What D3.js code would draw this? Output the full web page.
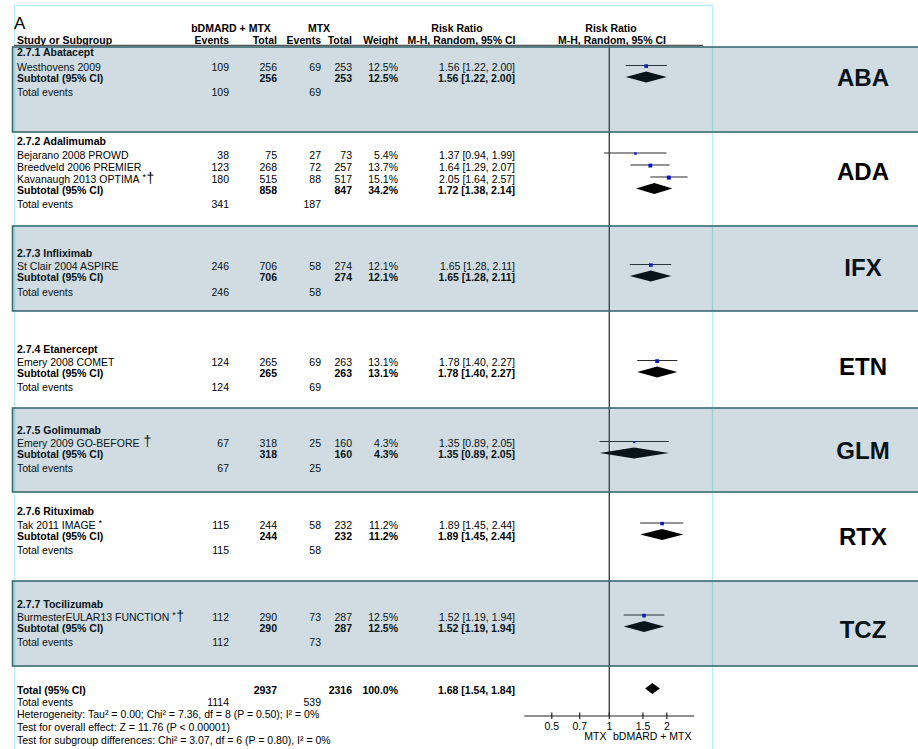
<!DOCTYPE html>
<html>
<head>
<meta charset="utf-8">
<script src="https://cdn.jsdelivr.net/npm/d3@7"></script>
<style>
  html, body { margin: 0; padding: 0; background: #fff; }
  svg { display: block; }
  text { font-family: "Liberation Sans", Arial, sans-serif; fill: #000; }
</style>
</head>
<body>
<svg id="chart" width="918" height="749"></svg>
<script>
// ---- data ----
const groupNames = ["2.7.1 Abatacept", "2.7.2 Adalimumab", "2.7.3 Infliximab", "2.7.4 Etanercept",
                    "2.7.5 Golimumab", "2.7.6 Rituximab", "2.7.7 Tocilizumab"];
const groupTags = ["ABA", "ADA", "IFX", "ETN", "GLM", "RTX", "TCZ"];

const studyNames = ["Westhovens 2009", "Bejarano 2008 PROWD", "Breedveld 2006 PREMIER",
                    "Kavanaugh 2013 OPTIMA", "St Clair 2004 ASPIRE", "Emery 2008 COMET",
                    "Emery 2009 GO-BEFORE", "Tak 2011 IMAGE", "BurmesterEULAR13 FUNCTION"];
const studyNotes = ["", "", "", "*†", "", "", "†", "*", "*†"];
const studyGroup = [0, 1, 1, 1, 2, 3, 4, 5, 6];
const studyEvents1 = [109, 38, 123, 180, 246, 124, 67, 115, 112];
const studyTotal1  = [256, 75, 268, 515, 706, 265, 318, 244, 290];
const studyEvents2 = [69, 27, 72, 88, 58, 69, 25, 58, 73];
const studyTotal2  = [253, 73, 257, 517, 274, 263, 160, 232, 287];
const studyWeight  = [12.5, 5.4, 13.7, 15.1, 12.1, 13.1, 4.3, 11.2, 12.5];
const studyRR      = [1.56, 1.37, 1.64, 2.05, 1.65, 1.78, 1.35, 1.89, 1.52];
const studyLow     = [1.22, 0.94, 1.29, 1.64, 1.28, 1.40, 0.89, 1.45, 1.19];
const studyHigh    = [2.00, 1.99, 2.07, 2.57, 2.11, 2.27, 2.05, 2.44, 1.94];

const subTotal1  = [256, 858, 706, 265, 318, 244, 290];
const subTotal2  = [253, 847, 274, 263, 160, 232, 287];
const subWeight  = [12.5, 34.2, 12.1, 13.1, 4.3, 11.2, 12.5];
const subRR      = [1.56, 1.72, 1.65, 1.78, 1.35, 1.89, 1.52];
const subLow     = [1.22, 1.38, 1.28, 1.40, 0.89, 1.45, 1.19];
const subHigh    = [2.00, 2.14, 2.11, 2.27, 2.05, 2.44, 1.94];
const subEvents1 = [109, 341, 246, 124, 67, 115, 112];
const subEvents2 = [69, 187, 58, 69, 25, 58, 73];

const overallTotals = [2937, 2316];
const overallEvents = [1114, 539];
const overallWeight = 100.0;
const overallRR = [1.68, 1.54, 1.84];
const footerLines = [
  "Heterogeneity: Tau² = 0.00; Chi² = 7.36, df = 8 (P = 0.50); I² = 0%",
  "Test for overall effect: Z = 11.76 (P < 0.00001)",
  "Test for subgroup differences: Chi² = 3.07, df = 6 (P = 0.80), I² = 0%"
];
const tickValues = [0.5, 0.7, 1, 1.5, 2];
const favourLabels = ["MTX", "bDMARD + MTX"];

// ---- layout ----
const W = 918, H = 749;
// panel boxes (top, bottom) behind each subgroup; shaded ones alternate
const panelTop    = [47, 132, 226, 311, 408, 492, 581];
const panelBottom = [132, 226, 311, 408, 492, 581, 666];
const shaded      = [true, false, true, false, true, false, true];
// text rows inside each subgroup: header, studies..., subtotal, total events
const groupRows = [
  [52.5, [67.5], 78.5, 92],
  [141.5, [155, 167, 179], 190, 204],
  [253, [266.5], 277.5, 292],
  [349, [362.5], 373.5, 387.5],
  [430, [443.5], 454.5, 468],
  [511.5, [525], 536, 550],
  [604, [617], 628, 642]
];
const overallRows = [690.5, 702.5, 714.5, 727.5, 740.5];
const tagY = [78, 172, 268, 367, 451, 537, 630];

const col = { name: 17, ev1: 229, tot1: 277, ev2: 321, tot2: 352, wt: 398, ci: 515 };
const axisY = 716;

const x = d3.scaleLog().domain([1 / 2.786, 2.786]).range([524.3, 694.3]);
const sq = d3.scaleSqrt().domain([0, 100]).range([0, 10.4]);

const svg = d3.select("#chart");
const g = svg.append("g");

// outer light frame
g.append("path")
  .attr("d", `M14.5,${H} V5.5 H712.5 V${H}`)
  .attr("fill", "none").attr("stroke", "#b6f0f2").attr("stroke-width", 1.3);

function txt(xp, yp, s, opts = {}) {
  return g.append("text")
    .attr("x", xp).attr("y", yp)
    .attr("dy", "0.35em")
    .attr("font-size", opts.size || 10.5)
    .attr("font-weight", opts.bold ? "bold" : "normal")
    .attr("text-anchor", opts.anchor || "start")
    .text(s);
}

// column headers
txt(14, 23, "A", { size: 17 });
txt(231, 28, "bDMARD + MTX", { bold: true, anchor: "middle" });
txt(319, 28, "MTX", { bold: true, anchor: "middle" });
txt(457, 28, "Risk Ratio", { bold: true, anchor: "middle" });
txt(611, 28, "Risk Ratio", { bold: true, anchor: "middle" });
txt(col.name, 40, "Study or Subgroup", { bold: true });
txt(col.ev1, 40, "Events", { bold: true, anchor: "end" });
txt(col.tot1, 40, "Total", { bold: true, anchor: "end" });
txt(col.ev2, 40, "Events", { bold: true, anchor: "end" });
txt(col.tot2, 40, "Total", { bold: true, anchor: "end" });
txt(col.wt, 40, "Weight", { bold: true, anchor: "end" });
txt(461.5, 40, "M-H, Random, 95% CI", { bold: true, anchor: "middle" });
txt(612, 40, "M-H, Random, 95% CI", { bold: true, anchor: "middle" });
g.append("line").attr("x1", 14).attr("x2", 703).attr("y1", 45.5).attr("y2", 45.5)
  .attr("stroke", "#555").attr("stroke-width", 1.5);

// line of no effect
g.append("line").attr("x1", x(1)).attr("x2", x(1)).attr("y1", 45).attr("y2", axisY)
  .attr("stroke", "#444").attr("stroke-width", 1.4);

const fmtCI = (r, l, h) => `${r.toFixed(2)} [${l.toFixed(2)}, ${h.toFixed(2)}]`;
const fmtW = w => `${w.toFixed(1)}%`;

function diamond(yc, lo, mid, hi, half) {
  g.append("path")
    .attr("d", `M${x(lo)},${yc} L${x(mid)},${yc - half} L${x(hi)},${yc} L${x(mid)},${yc + half} Z`)
    .attr("fill", "#000");
}

groupNames.forEach((gn, gi) => {
  const [hy, sys, suby, toty] = groupRows[gi];
  txt(col.name, hy, gn, { bold: true });
  const idx = studyGroup.map((v, i) => v === gi ? i : -1).filter(i => i >= 0);
  idx.forEach((si, k) => {
    const yy = sys[k];
    const t = txt(col.name, yy, studyNames[si]);
    const note = studyNotes[si];
    if (note) {
      if (note.includes("*")) {
        t.append("tspan").attr("font-size", 9).attr("dx", 3).attr("dy", "-0.25em").text("*");
      }
      if (note.includes("†")) {
        t.append("tspan").attr("font-size", 14)
          .attr("dx", note.includes("*") ? 0.5 : 4)
          .attr("dy", note.includes("*") ? "0.15em" : "-0.05em").text("†");
      }
    }
    txt(col.ev1, yy, studyEvents1[si], { anchor: "end" });
    txt(col.tot1, yy, studyTotal1[si], { anchor: "end" });
    txt(col.ev2, yy, studyEvents2[si], { anchor: "end" });
    txt(col.tot2, yy, studyTotal2[si], { anchor: "end" });
    txt(col.wt, yy, fmtW(studyWeight[si]), { anchor: "end" });
    txt(col.ci, yy, fmtCI(studyRR[si], studyLow[si], studyHigh[si]), { anchor: "end" });
    // confidence interval and weighted square
    const my = yy - 2;
    g.append("line").attr("x1", x(studyLow[si])).attr("x2", x(studyHigh[si]))
      .attr("y1", my).attr("y2", my).attr("stroke", "#2a2a2a").attr("stroke-width", 1.2);
    const s = sq(studyWeight[si]);
    g.append("rect").attr("x", x(studyRR[si]) - s / 2).attr("y", my - s / 2 + 0.6)
      .attr("width", s).attr("height", s).attr("fill", "#0a14c8");
  });
  txt(col.name, suby, "Subtotal (95% CI)", { bold: true });
  txt(col.tot1, suby, subTotal1[gi], { bold: true, anchor: "end" });
  txt(col.tot2, suby, subTotal2[gi], { bold: true, anchor: "end" });
  txt(col.wt, suby, fmtW(subWeight[gi]), { bold: true, anchor: "end" });
  txt(col.ci, suby, fmtCI(subRR[gi], subLow[gi], subHigh[gi]), { bold: true, anchor: "end" });
  diamond(suby - 1.5, subLow[gi], subRR[gi], subHigh[gi], 5.5);
  txt(col.name, toty, "Total events");
  txt(col.ev1, toty, subEvents1[gi], { anchor: "end" });
  txt(col.ev2, toty, subEvents2[gi], { anchor: "end" });

  const ty = tagY[gi];
  g.append("text").attr("x", 863).attr("y", ty).attr("dy", "0.35em")
    .attr("text-anchor", "middle").attr("font-size", 24).attr("font-weight", "bold")
    .attr("fill", "#111").text(groupTags[gi]);
});

// overall
txt(col.name, overallRows[0], "Total (95% CI)", { bold: true });
txt(col.tot1, overallRows[0], overallTotals[0], { bold: true, anchor: "end" });
txt(col.tot2, overallRows[0], overallTotals[1], { bold: true, anchor: "end" });
txt(col.wt, overallRows[0], fmtW(overallWeight), { bold: true, anchor: "end" });
txt(col.ci, overallRows[0], fmtCI(overallRR[0], overallRR[1], overallRR[2]), { bold: true, anchor: "end" });
diamond(overallRows[0] - 2, overallRR[1], overallRR[0], overallRR[2], 5.5);
txt(col.name, overallRows[1], "Total events");
txt(col.ev1, overallRows[1], overallEvents[0], { anchor: "end" });
txt(col.ev2, overallRows[1], overallEvents[1], { anchor: "end" });
footerLines.forEach((s, i) => txt(col.name, overallRows[2 + i], s));

// axis
const axis = g.append("g").attr("transform", `translate(0,${axisY})`);
axis.append("line").attr("x1", x.range()[0]).attr("x2", x.range()[1])
  .attr("stroke", "#222").attr("stroke-width", 1.2);
axis.selectAll("line.tick").data(tickValues).join("line").attr("class", "tick")
  .attr("x1", d => x(d)).attr("x2", d => x(d)).attr("y1", -3.5).attr("y2", 3)
  .attr("stroke", "#222").attr("stroke-width", 1.2);
axis.selectAll("text.tl").data(tickValues).join("text").attr("class", "tl")
  .attr("x", d => x(d)).attr("y", 10).attr("text-anchor", "middle")
  .attr("font-size", 10.5).attr("dy", "0.35em").text(d => d);
axis.append("text").attr("x", 606.5).attr("y", 20.5).attr("dy", "0.35em")
  .attr("text-anchor", "end").attr("font-size", 10.5).text(favourLabels[0]);
axis.append("text").attr("x", 613).attr("y", 20.5).attr("dy", "0.35em")
  .attr("text-anchor", "start").attr("font-size", 10.5).text(favourLabels[1]);

// translucent subgroup panels laid over the table
const panels = svg.append("g");
groupNames.forEach((gn, gi) => {
  if (!shaded[gi]) return;
  panels.append("rect")
    .attr("x", 12.5).attr("y", panelTop[gi])
    .attr("width", W).attr("height", panelBottom[gi] - panelTop[gi])
    .attr("fill", "rgb(37,93,116)").attr("fill-opacity", 0.215)
    .attr("stroke", "#3a6a74").attr("stroke-width", 1.6);
});
</script>
</body>
</html>
